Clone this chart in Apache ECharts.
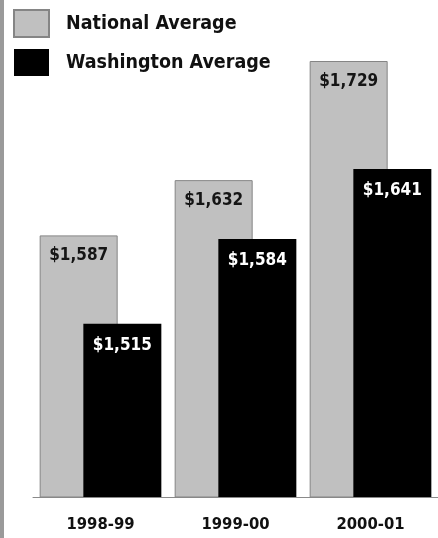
<!DOCTYPE html>
<html>
<head>
<meta charset="utf-8">
<style>
  html, body { margin: 0; padding: 0; background: #fff; }
  #chart { width: 438px; height: 538px; }
</style>
<script src="https://cdn.jsdelivr.net/npm/echarts@6/dist/echarts.min.js"></script>
</head>
<body>
<div id="chart"></div>
<script>
// School years on the category axis
const years = ['1998-99', '1999-00', '2000-01'];
// Average amounts in dollars
const nationalAverage = [1587, 1632, 1729];
const washingtonAverage = [1515, 1584, 1641];

const FONT = '"Liberation Sans Narrow", "DejaVu Sans Condensed", "Liberation Sans", sans-serif';

const money = v => '$' + v.toLocaleString('en-US');

const chart = echarts.init(document.getElementById('chart'));
chart.setOption({
  animation: false,
  backgroundColor: '#ffffff',
  graphic: [{
    type: 'rect',
    left: 0, top: 0,
    shape: { width: 4, height: 538 },
    style: { fill: '#9a9a9a' },
    silent: true
  }],
  legend: {
    orient: 'vertical',
    left: 13,
    top: 9,
    padding: 0,
    itemWidth: 35,
    itemHeight: 27,
    itemGap: 11,
    icon: 'rect',
    textStyle: { fontFamily: FONT, fontWeight: 'bold', fontSize: 19.5, color: '#111', padding: [0, 0, 0, 12] },
    data: ['National Average', 'Washington Average']
  },
  grid: { left: 33, right: 0, top: 61, bottom: 41, containLabel: false },
  xAxis: {
    type: 'category',
    data: years,
    axisLine: { lineStyle: { color: '#8a8a8a', width: 1 } },
    axisTick: { length: 5, lineStyle: { color: '#8a8a8a' } },
    axisLabel: { fontFamily: FONT, fontWeight: 'bold', fontSize: 16.5, color: '#111', margin: 19 }
  },
  yAxis: {
    type: 'value',
    min: 1374,
    max: 1729,
    show: false,
    splitLine: { show: false }
  },
  series: [
    {
      name: 'National Average',
      type: 'bar',
      data: nationalAverage,
      barWidth: 78,
      barGap: '-44%',
      itemStyle: { color: '#c0c0c0', borderColor: '#858585', borderWidth: 1 },
      label: {
        show: true, position: 'insideTop', distance: 12,
        formatter: p => money(p.value),
        fontFamily: FONT, fontWeight: 'bold', fontSize: 17, color: '#151515'
      }
    },
    {
      name: 'Washington Average',
      type: 'bar',
      data: washingtonAverage,
      barWidth: 78,
      itemStyle: { color: '#000000' },
      label: {
        show: true, position: 'insideTop', distance: 13,
        formatter: p => money(p.value),
        fontFamily: FONT, fontWeight: 'bold', fontSize: 17, color: '#ffffff'
      }
    }
  ]
});
</script>
</body>
</html>
